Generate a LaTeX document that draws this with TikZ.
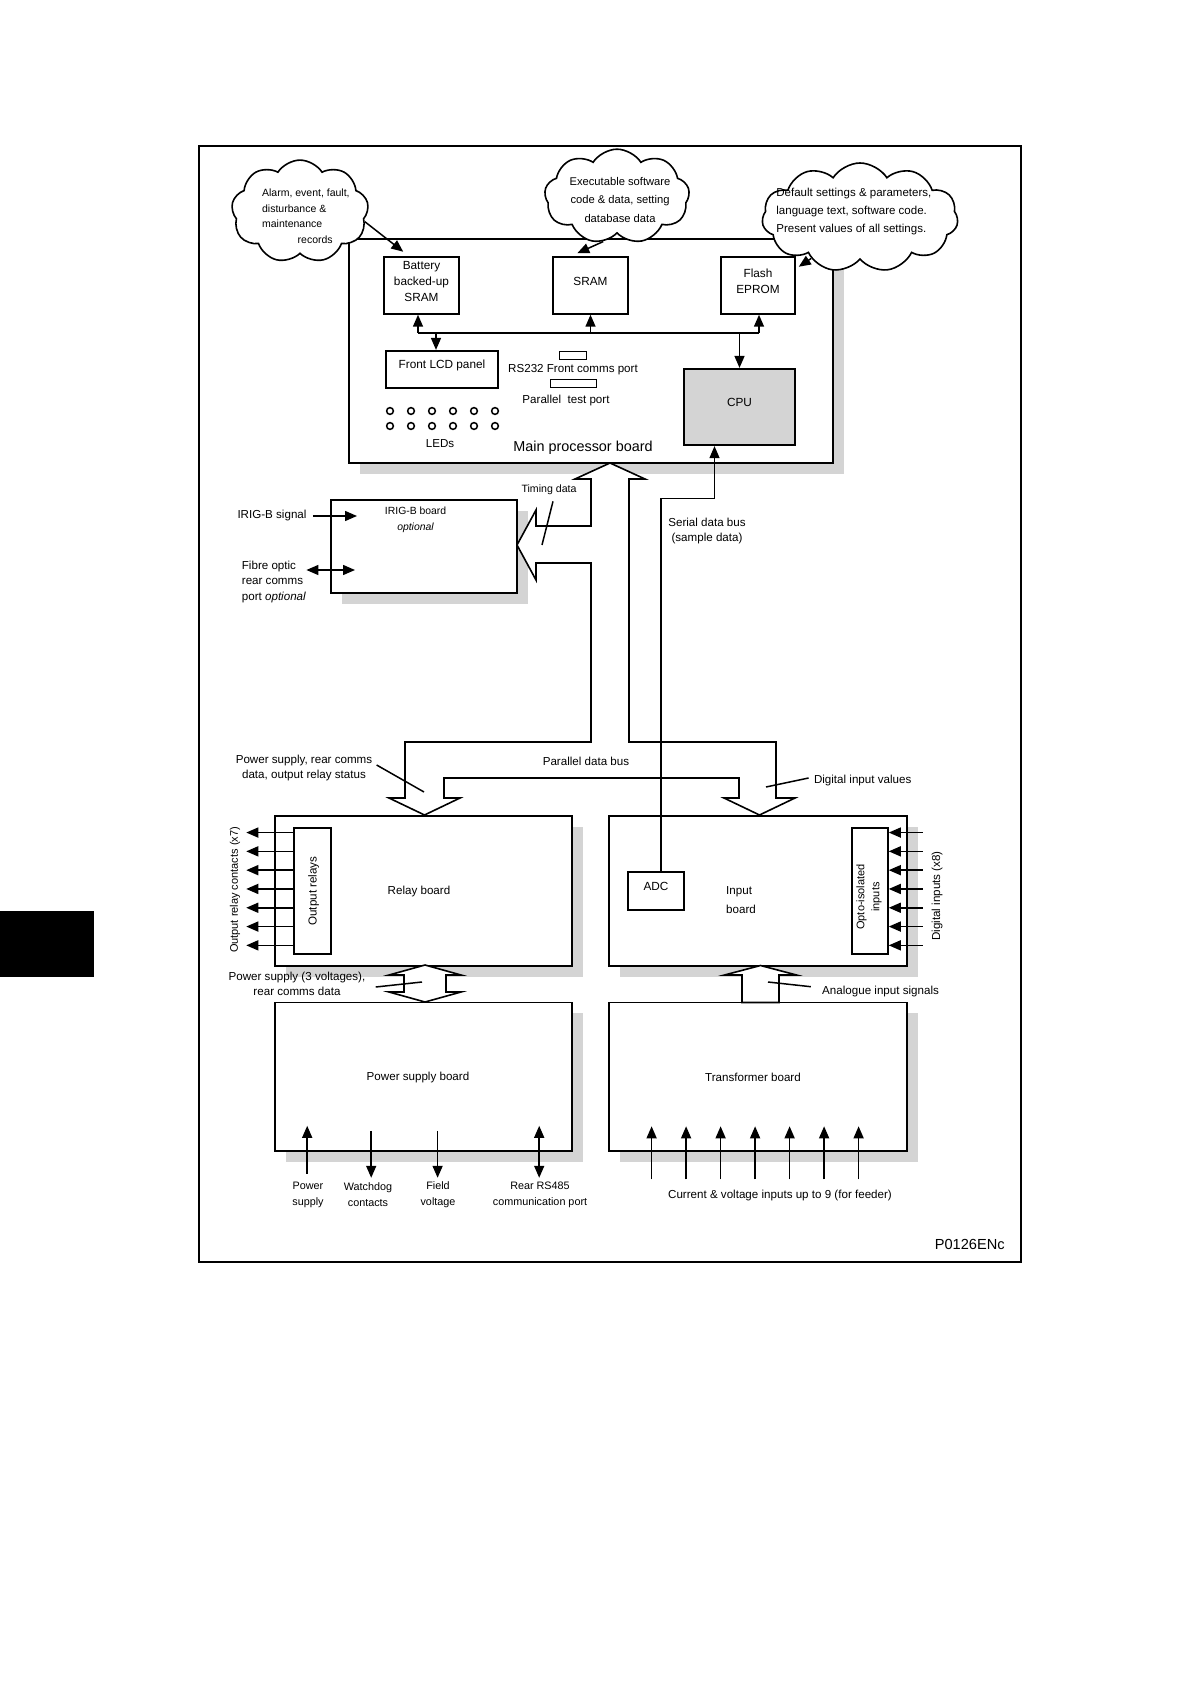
\documentclass[tikz,border=0pt]{standalone}
\usepackage{fontspec}
\setmainfont{Liberation Sans}
\usetikzlibrary{arrows.meta,positioning,calc,fit,shapes.symbols,shadows}
\tikzset{
  brd/.style   ={draw, line width=0.8pt, fill=white, inner sep=0pt,
                 drop shadow={shadow xshift=5.3pt, shadow yshift=-5.3pt, fill=black!17, opacity=1}},
  ubox/.style  ={draw, line width=0.75pt, fill=white, inner sep=0pt, align=center,
                 font=\fontsize{5.9pt}{7.8pt}\selectfont},
  tbox/.style  ={ubox, line width=1.1pt},
  port/.style  ={draw, line width=0.5pt, inner sep=0pt},
  cld/.style   ={cloud, draw, fill=white, line width=0.8pt, cloud puffs=9,
                 cloud puff arc=115, cloud ignores aspect, inner sep=0pt},
  lbl/.style   ={inner sep=0pt, align=center, font=\fontsize{5.8pt}{7.8pt}\selectfont},
  hollow/.style={draw, line width=0.8pt, fill=white, line join=miter},
  lead/.style  ={line width=0.75pt},
  far/.style   ={-{Triangle[length=6pt,width=5pt]}, line width=0.75pt},
  fdar/.style  ={{Triangle[length=6pt,width=5pt]}-{Triangle[length=6pt,width=5pt]}, line width=0.75pt},
  led/.style   ={circle, draw, line width=0.75pt, minimum size=3.4pt, inner sep=0pt},
}
\begin{document}
\begin{tikzpicture}[x=0.5pt, y=-0.5pt]
\useasboundingbox (0,0) rectangle (1191,1684);

% page frame and side tab
\draw[line width=0.6pt] (199,146) rectangle (1021,1262);
\fill (0,911) rectangle (94,977);

% main processor board
\node[brd, fit={(349,239) (833,463)}] (mainb) {};
\node[lbl, font=\fontsize{7.2pt}{9pt}\selectfont] (mainlbl) at (583,448) {Main processor board};

\node[ubox, fit={(384,257) (459,314)}] (batt) {Battery\\backed-up\\SRAM};
\node[ubox, fit={(553,257) (628,314)}] (sram) {SRAM};
\node[ubox, fit={(721,257) (795,314)}] (flash) {Flash\\EPROM};
\node[tbox, fit={(386,351) (498,388)}] (lcd) {Front LCD panel};
\node[tbox, fill=black!17, fit={(684,369) (795,445)}] (cpu) {CPU};

\node[port, fit={(559,352) (586,360)}] (rsport) {};
\node[port, fit={(550,380) (596,388)}] (parport) {};
\node[lbl] (rslbl) at (573,370) {RS232 Front comms port};
\node[lbl] (parlbl) at (566,401) {Parallel\ \ test port};

\foreach \i in {0,...,5} {
  \node[led] (ledA\i) at ({390+21*\i},411) {};
  \node[led] (ledB\i) at ({390+21*\i},426) {};
}
\node[lbl] (ledlbl) at (440,444) {LEDs};

% internal bus
\coordinate (busL) at (418,333);
\coordinate (busR) at (759,333);
\draw[line width=0.8pt] (busL) -- (busR);
\draw[far] (busL) -- (batt.south -| busL);
\draw[far] (sram.south |- busL) -- (sram.south);
\draw[far] (busR) -- (flash.south -| busR);
\draw[far] ([xshift=-3pt]lcd.north |- busL) -- ([xshift=-3pt]lcd.north);
\draw[far] (cpu.north |- busL) -- (cpu.north);

% memory clouds
\node[cld, minimum width=68.5pt, minimum height=51.4pt] (almcl) at (300,211.5) {};
\node[lbl, align=left, anchor=west, font=\fontsize{5.25pt}{7.7pt}\selectfont] (almtxt) at (261.7,216.3)
  {Alarm, event, fault,\\disturbance \&\\maintenance\\\hspace*{17.8pt}records};
\node[cld, minimum width=72.5pt, minimum height=47.3pt] (swcl) at (617,196.5) {};
\node[lbl, font=\fontsize{5.6pt}{9.2pt}\selectfont] (swtxt) at (620,200)
  {Executable software\\code \& data, setting\\database data};
\node[cld, cloud puffs=11, minimum width=98pt, minimum height=54.5pt] (defcl) at (860,217.5) {};
\node[lbl, align=left, anchor=west, font=\fontsize{5.76pt}{9pt}\selectfont] (deftxt) at (776,211.3)
  {Default settings \& parameters,\\language text, software code.\\Present values of all settings.};

\draw[far] (almcl.-9.6) -- ($(batt.north west)+(20,-4.5)$);
\draw[far] (swcl.-107.5) -- ($(sram.north west)+(25,-3)$);
\draw[far] (defcl.-140) -- ($(flash.north east)+(3,10.5)$);

% IRIG-B board
\node[brd, fit={(331,500) (517,593)}] (irig) {};
\node[lbl, font=\fontsize{5.2pt}{7.8pt}\selectfont] (iriglbl) at (415.6,520) {IRIG-B board\\\textit{optional}};
\node[lbl] (irigsig) at (272,516) {IRIG-B signal};
\coordinate (irigin) at (357,516);
\draw[far] ([xshift=3pt]irigsig.east) -- (irigin);
\node[lbl, align=left, anchor=west, font=\fontsize{5.8pt}{7.85pt}\selectfont] (fibre) at (241.5,581.7)
  {Fibre optic\\rear comms\\port \textit{optional}};
\coordinate (fibin) at (355,570);
\draw[fdar] (fibre.east |- fibin) -- (fibin);

% relay and input boards
\node[brd, fit={(275,816) (572,966)}] (relay) {};
\node[lbl] (relaylbl) at (419,891) {Relay board};
\node[ubox, fit={(294,828) (331,954)}] (outrl) {};
\node[lbl, rotate=90] (outrltxt) at (313.6,891) {Output relays};
\foreach \k in {0,...,6}
  \draw[far] ($(outrl.north west)+(0,{5.3+18.8*\k})$) -- ++(-47,0);
\node[lbl, rotate=90, font=\fontsize{5.5pt}{7pt}\selectfont] (contlbl) at (235,890) {Output relay contacts (x7)};

\node[brd, fit={(609,816) (907,966)}] (inb) {};
\node[tbox, fit={(628,872) (684,910)}] (adc) {ADC};
\node[lbl, align=left, anchor=west, font=\fontsize{5.8pt}{9.3pt}\selectfont] (inblbl) at (725.8,900) {Input\\board};
\node[ubox, fit={(852,828) (888,954)}] (opto) {};
\node[lbl, rotate=90, font=\fontsize{5.5pt}{7.5pt}\selectfont] (optotxt) at (869,897) {Opto-isolated\\inputs};
\foreach \k in {0,...,6}
  \draw[far] ($(opto.north east)+(34,{5.3+18.8*\k})$) -- ++(-34,0);
\node[lbl, rotate=90] (diglbl) at (937,896) {Digital inputs (x8)};

% power supply and transformer boards
\node[brd, fit={(275,1002.5) (572,1151)}] (psb) {};
\node[lbl] (psblbl) at (418,1077) {Power supply board};
\node[brd, fit={(609,1002.5) (907,1151)}] (trb) {};
\node[lbl] (trblbl) at (753,1077) {Transformer board};

\draw[far] ($(psb.south west)+(33,22)$) -- ++(0,-48);
\draw[far] ($(psb.south west)+(97,-21)$) -- ++(0,47);
\draw[far] ($(psb.south west)+(163.4,-21)$) -- ++(0,47);
\draw[fdar] ($(psb.south west)+(265,-26)$) -- ++(0,52);
\node[lbl, font=\fontsize{5.4pt}{8pt}\selectfont] (pwrlbl) at (308,1195) {Power\\supply};
\node[lbl, font=\fontsize{5.4pt}{8pt}\selectfont] (wdlbl) at (368,1195) {Watchdog\\contacts};
\node[lbl, font=\fontsize{5.4pt}{8pt}\selectfont] (fvlbl) at (438,1195) {Field\\voltage};
\node[lbl, font=\fontsize{5.4pt}{8pt}\selectfont] (rearlbl) at (540,1195) {Rear RS485\\communication port};

\foreach \k in {0,...,6}
  \draw[far] ($(trb.south west)+({43.4+34.5*\k},27.5)$) -- ++(0,-53);
\node[lbl] (cvlbl) at (780,1195) {Current \& voltage inputs up to 9 (for feeder)};

% hollow bus arrows
\draw[hollow] (610,463) -- (645,479) -- (629,479) -- (629,742) -- (776,742) -- (776,798)
  -- (795,798) -- (759.5,815) -- (724,798) -- (739,798) -- (739,778) -- (444,778)
  -- (444,798) -- (460,798) -- (424.5,815) -- (389,798) -- (405,798) -- (405,742)
  -- (591,742) -- (591,563) -- (536,563) -- (536,580) -- (517,545) -- (536,510)
  -- (536,526) -- (591,526) -- (591,479) -- (575,479) -- cycle;
\draw[hollow] (425,965) -- (461,975) -- (446,975) -- (446,992) -- (461,992) -- (425,1002)
  -- (389,992) -- (404,992) -- (404,975) -- (389,975) -- cycle;
\draw[hollow] (760.5,965.5) -- (796.5,975) -- (779,975) -- (779,1002.5) -- (742,1002.5)
  -- (742,975) -- (724.5,975) -- cycle;

% serial data bus
\draw[far, line width=0.6pt] ([xshift=2.5pt]adc.north) |- ($(cpu.south)+(-25,52)$)
  -- ($(cpu.south)+(-25,0)$);
\node[lbl] (serlbl) at (707,531) {Serial data bus\\(sample data)};

% bus labels
\node[lbl, font=\fontsize{5.3pt}{7pt}\selectfont] (timlbl) at (549,490) {Timing data};
\coordinate (timcut) at (542,545);
\draw[lead] ($(timlbl.south)+(4,6)$) -- (timcut);
\node[lbl, font=\fontsize{5.8pt}{7.65pt}\selectfont] (psrclbl) at (304,768)
  {Power supply, rear comms\\data, output relay status};
\coordinate (psrccut) at (424,792);
\draw[lead] ($(psrclbl.east)+(4,-3)$) -- (psrccut);
\node[lbl] (pbuslbl) at (586,761) {Parallel data bus};
\node[lbl, anchor=west] (divlbl) at (813.6,780) {Digital input values};
\coordinate (divcut) at (766,787);
\draw[lead] ($(divlbl.west)+(-5,-2)$) -- (divcut);
\node[lbl, font=\fontsize{5.8pt}{7.5pt}\selectfont] (ps3lbl) at (297,984)
  {Power supply (3 voltages),\\rear comms data};
\coordinate (ps3cut) at (422,982);
\draw[lead] ($(ps3lbl.east)+(10,3)$) -- (ps3cut);
\node[lbl, anchor=west] (anlbl) at (821.8,991.7) {Analogue input signals};
\coordinate (ancut) at (768,982);
\draw[lead] ($(anlbl.west)+(-11,-5)$) -- (ancut);

\node[lbl, anchor=east, font=\fontsize{7.3pt}{9pt}\selectfont] (figid) at (1005,1244) {P0126ENc};

\end{tikzpicture}
\end{document}
